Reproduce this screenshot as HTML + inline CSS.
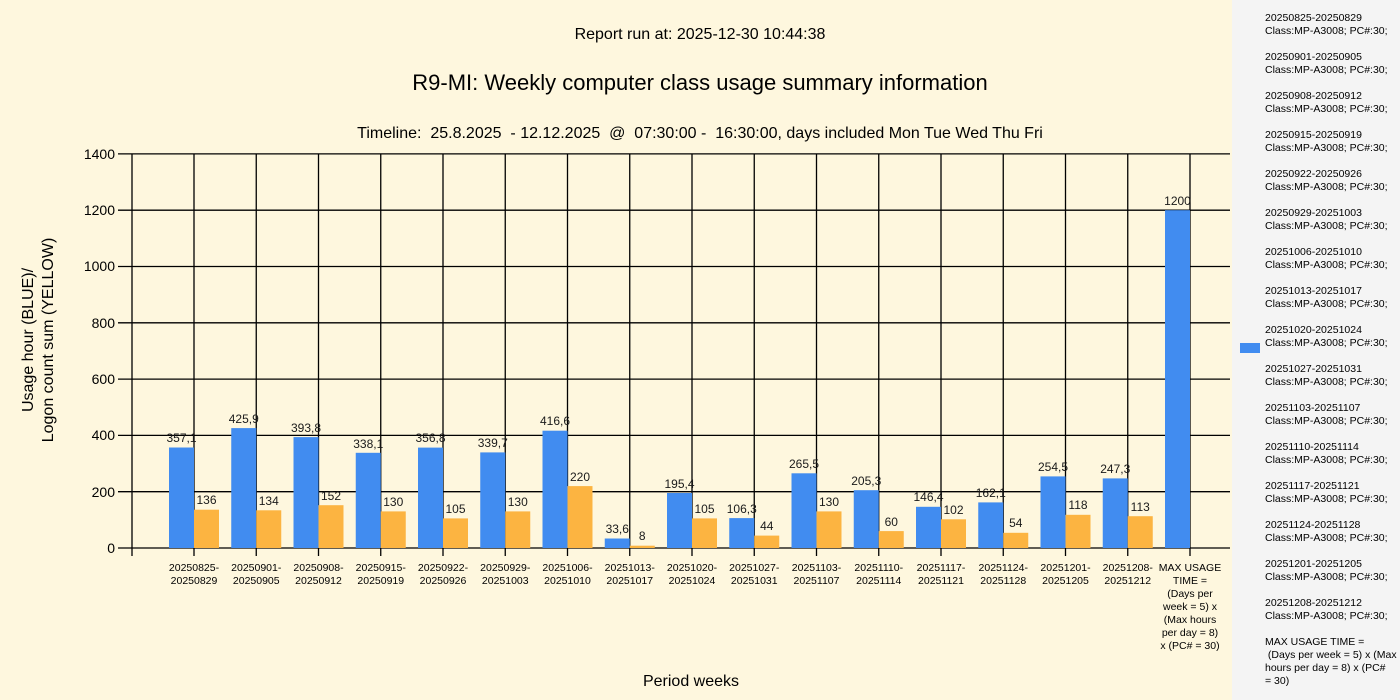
<!DOCTYPE html>
<html><head><meta charset="utf-8"><style>
html,body{margin:0;padding:0;background:#FEF7DE;}
svg{display:block;font-family:"Liberation Sans",sans-serif;}
text{white-space:pre;}
</style></head><body>
<svg width="1400" height="700" xmlns="http://www.w3.org/2000/svg">
<rect width="1400" height="700" fill="#FEF7DE"/>
<rect x="1232" y="0" width="168" height="700" fill="#F4F4F4"/>
<g font-size="16" fill="#000" text-anchor="middle">
<text x="700" y="39">Report run at: 2025-12-30 10:44:38</text>
<text x="700" y="90" font-size="22">R9-MI: Weekly computer class usage summary information</text>
<text x="700" y="138" xml:space="preserve">Timeline:  25.8.2025  - 12.12.2025  @  07:30:00 -  16:30:00, days included Mon Tue Wed Thu Fri</text>
<text x="691" y="686">Period weeks</text>
<g transform="translate(33,340) rotate(-90)"><text x="0" y="0">Usage hour (BLUE)/</text><text x="0" y="20">Logon count sum (YELLOW)</text></g>
</g>
<g stroke="#000" stroke-width="1.3">
<line x1="118" y1="548" x2="1230" y2="548"/><line x1="118" y1="491.7" x2="1230" y2="491.7"/><line x1="118" y1="435.4" x2="1230" y2="435.4"/><line x1="118" y1="379.1" x2="1230" y2="379.1"/><line x1="118" y1="322.8" x2="1230" y2="322.8"/><line x1="118" y1="266.5" x2="1230" y2="266.5"/><line x1="118" y1="210.2" x2="1230" y2="210.2"/><line x1="118" y1="153.9" x2="1230" y2="153.9"/>
<line x1="132" y1="154" x2="132" y2="556"/>
<line x1="194" y1="154" x2="194" y2="556"/><line x1="256.25" y1="154" x2="256.25" y2="556"/><line x1="318.5" y1="154" x2="318.5" y2="556"/><line x1="380.75" y1="154" x2="380.75" y2="556"/><line x1="443" y1="154" x2="443" y2="556"/><line x1="505.25" y1="154" x2="505.25" y2="556"/><line x1="567.5" y1="154" x2="567.5" y2="556"/><line x1="629.75" y1="154" x2="629.75" y2="556"/><line x1="692" y1="154" x2="692" y2="556"/><line x1="754.25" y1="154" x2="754.25" y2="556"/><line x1="816.5" y1="154" x2="816.5" y2="556"/><line x1="878.75" y1="154" x2="878.75" y2="556"/><line x1="941" y1="154" x2="941" y2="556"/><line x1="1003.25" y1="154" x2="1003.25" y2="556"/><line x1="1065.5" y1="154" x2="1065.5" y2="556"/><line x1="1127.75" y1="154" x2="1127.75" y2="556"/><line x1="1190" y1="154" x2="1190" y2="556"/>
</g>
<g font-size="14" text-anchor="end" fill="#000">
<text x="115" y="553">0</text><text x="115" y="497">200</text><text x="115" y="440">400</text><text x="115" y="384">600</text><text x="115" y="328">800</text><text x="115" y="271">1000</text><text x="115" y="215">1200</text><text x="115" y="159">1400</text>
</g>
<g fill="#418CF0">
<rect x="169" y="447.5" width="25" height="100.5"/><rect x="231.25" y="428.1" width="25" height="119.9"/><rect x="293.5" y="437.1" width="25" height="110.9"/><rect x="355.75" y="452.8" width="25" height="95.2"/><rect x="418" y="447.6" width="25" height="100.4"/><rect x="480.25" y="452.4" width="25" height="95.6"/><rect x="542.5" y="430.7" width="25" height="117.3"/><rect x="604.75" y="538.5" width="25" height="9.5"/><rect x="667" y="493" width="25" height="55"/><rect x="729.25" y="518.1" width="25" height="29.9"/><rect x="791.5" y="473.3" width="25" height="74.7"/><rect x="853.75" y="490.2" width="25" height="57.8"/><rect x="916" y="506.8" width="25" height="41.2"/><rect x="978.25" y="502.4" width="25" height="45.6"/><rect x="1040.5" y="476.4" width="25" height="71.6"/><rect x="1102.75" y="478.4" width="25" height="69.6"/><rect x="1165" y="210.2" width="25" height="337.8"/>
</g>
<g fill="#FCB441">
<rect x="194" y="509.7" width="25" height="38.3"/><rect x="256.25" y="510.3" width="25" height="37.7"/><rect x="318.5" y="505.2" width="25" height="42.8"/><rect x="380.75" y="511.4" width="25" height="36.6"/><rect x="443" y="518.4" width="25" height="29.6"/><rect x="505.25" y="511.4" width="25" height="36.6"/><rect x="567.5" y="486.1" width="25" height="61.9"/><rect x="629.75" y="545.7" width="25" height="2.3"/><rect x="692" y="518.4" width="25" height="29.6"/><rect x="754.25" y="535.6" width="25" height="12.4"/><rect x="816.5" y="511.4" width="25" height="36.6"/><rect x="878.75" y="531.1" width="25" height="16.9"/><rect x="941" y="519.3" width="25" height="28.7"/><rect x="1003.25" y="532.8" width="25" height="15.2"/><rect x="1065.5" y="514.8" width="25" height="33.2"/><rect x="1127.75" y="516.2" width="25" height="31.8"/>
</g>
<g font-size="12" text-anchor="middle" fill="#1a1a1a">
<text x="181.5" y="442">357,1</text><text x="243.75" y="423">425,9</text><text x="306" y="432">393,8</text><text x="368.25" y="448">338,1</text><text x="430.5" y="442">356,8</text><text x="492.75" y="447">339,7</text><text x="555" y="425">416,6</text><text x="617.25" y="533">33,6</text><text x="679.5" y="488">195,4</text><text x="741.75" y="513">106,3</text><text x="804" y="468">265,5</text><text x="866.25" y="485">205,3</text><text x="928.5" y="501">146,4</text><text x="990.75" y="497">162,1</text><text x="1053" y="471">254,5</text><text x="1115.25" y="473">247,3</text><text x="1177.5" y="205">1200</text>
<text x="206.5" y="504">136</text><text x="268.75" y="505">134</text><text x="331" y="500">152</text><text x="393.25" y="506">130</text><text x="455.5" y="513">105</text><text x="517.75" y="506">130</text><text x="580" y="481">220</text><text x="642.25" y="540">8</text><text x="704.5" y="513">105</text><text x="766.75" y="530">44</text><text x="829" y="506">130</text><text x="891.25" y="526">60</text><text x="953.5" y="514">102</text><text x="1015.75" y="527">54</text><text x="1078" y="509">118</text><text x="1140.25" y="511">113</text>
</g>
<g font-size="10.5" text-anchor="middle" fill="#000">
<text x="194" y="571">20250825-</text><text x="194" y="584">20250829</text>
<text x="256.25" y="571">20250901-</text><text x="256.25" y="584">20250905</text>
<text x="318.5" y="571">20250908-</text><text x="318.5" y="584">20250912</text>
<text x="380.75" y="571">20250915-</text><text x="380.75" y="584">20250919</text>
<text x="443" y="571">20250922-</text><text x="443" y="584">20250926</text>
<text x="505.25" y="571">20250929-</text><text x="505.25" y="584">20251003</text>
<text x="567.5" y="571">20251006-</text><text x="567.5" y="584">20251010</text>
<text x="629.75" y="571">20251013-</text><text x="629.75" y="584">20251017</text>
<text x="692" y="571">20251020-</text><text x="692" y="584">20251024</text>
<text x="754.25" y="571">20251027-</text><text x="754.25" y="584">20251031</text>
<text x="816.5" y="571">20251103-</text><text x="816.5" y="584">20251107</text>
<text x="878.75" y="571">20251110-</text><text x="878.75" y="584">20251114</text>
<text x="941" y="571">20251117-</text><text x="941" y="584">20251121</text>
<text x="1003.25" y="571">20251124-</text><text x="1003.25" y="584">20251128</text>
<text x="1065.5" y="571">20251201-</text><text x="1065.5" y="584">20251205</text>
<text x="1127.75" y="571">20251208-</text><text x="1127.75" y="584">20251212</text>
<text x="1190" y="571">MAX USAGE</text><text x="1190" y="584">TIME =</text><text x="1190" y="597">(Days per</text><text x="1190" y="610">week = 5) x</text><text x="1190" y="623">(Max hours</text><text x="1190" y="636">per day = 8)</text><text x="1190" y="649">x (PC# = 30)</text>
</g>
<rect x="1240" y="343" width="20" height="10" fill="#418CF0"/>
<g font-size="10.5" fill="#000">
<text x="1265" y="21">20250825-20250829</text><text x="1265" y="34">Class:MP-A3008; PC#:30;</text>
<text x="1265" y="60">20250901-20250905</text><text x="1265" y="73">Class:MP-A3008; PC#:30;</text>
<text x="1265" y="99">20250908-20250912</text><text x="1265" y="112">Class:MP-A3008; PC#:30;</text>
<text x="1265" y="138">20250915-20250919</text><text x="1265" y="151">Class:MP-A3008; PC#:30;</text>
<text x="1265" y="177">20250922-20250926</text><text x="1265" y="190">Class:MP-A3008; PC#:30;</text>
<text x="1265" y="216">20250929-20251003</text><text x="1265" y="229">Class:MP-A3008; PC#:30;</text>
<text x="1265" y="255">20251006-20251010</text><text x="1265" y="268">Class:MP-A3008; PC#:30;</text>
<text x="1265" y="294">20251013-20251017</text><text x="1265" y="307">Class:MP-A3008; PC#:30;</text>
<text x="1265" y="333">20251020-20251024</text><text x="1265" y="346">Class:MP-A3008; PC#:30;</text>
<text x="1265" y="372">20251027-20251031</text><text x="1265" y="385">Class:MP-A3008; PC#:30;</text>
<text x="1265" y="411">20251103-20251107</text><text x="1265" y="424">Class:MP-A3008; PC#:30;</text>
<text x="1265" y="450">20251110-20251114</text><text x="1265" y="463">Class:MP-A3008; PC#:30;</text>
<text x="1265" y="489">20251117-20251121</text><text x="1265" y="502">Class:MP-A3008; PC#:30;</text>
<text x="1265" y="528">20251124-20251128</text><text x="1265" y="541">Class:MP-A3008; PC#:30;</text>
<text x="1265" y="567">20251201-20251205</text><text x="1265" y="580">Class:MP-A3008; PC#:30;</text>
<text x="1265" y="606">20251208-20251212</text><text x="1265" y="619">Class:MP-A3008; PC#:30;</text>
<text x="1265" y="645">MAX USAGE TIME =</text><text x="1265" y="658" xml:space="preserve"> (Days per week = 5) x (Max</text><text x="1265" y="671">hours per day = 8) x (PC#</text><text x="1265" y="684">= 30)</text>
</g>
</svg>
</body></html>
